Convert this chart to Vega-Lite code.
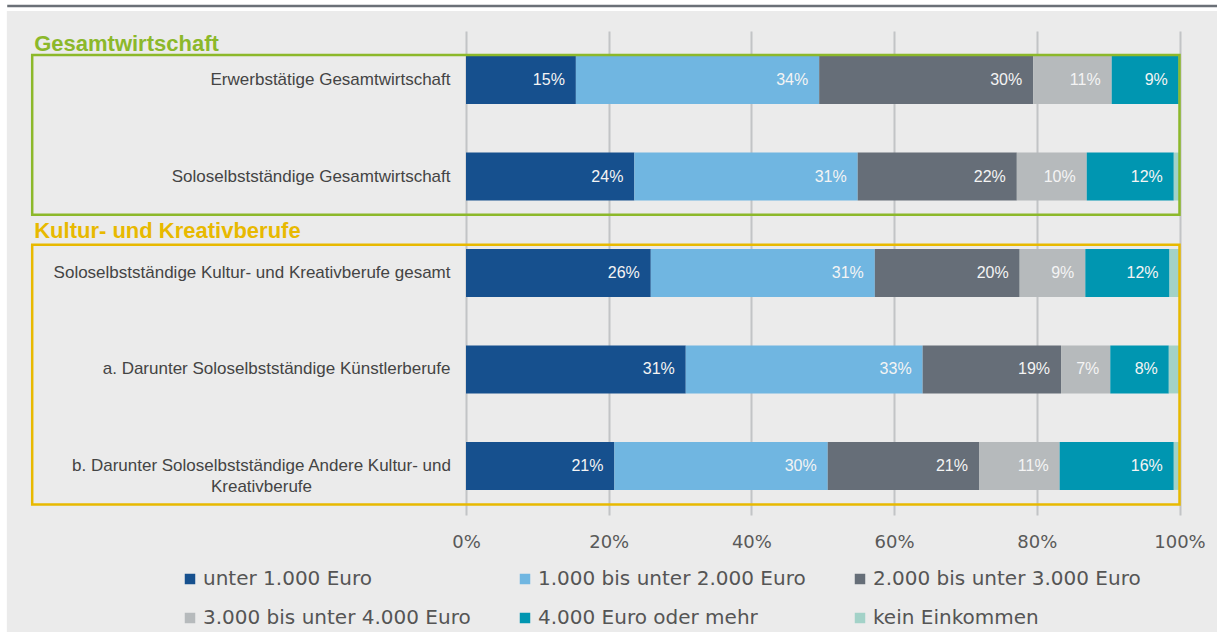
{
  "$schema": "https://vega.github.io/schema/vega-lite/v6.json",
  "width": 713.5,
  "height": 484,
  "autosize": {"type": "none"},
  "padding": {"left": 466, "top": 31, "right": 37, "bottom": 117},
  "background": "#ebebeb",
  "config": {"view": {"stroke": null}},
  "datasets": {
    "bars": [
      {"group": "Erwerbstätige Gesamtwirtschaft", "cat": "unter 1.000 Euro", "o": 1, "share": 0.154},
      {"group": "Erwerbstätige Gesamtwirtschaft", "cat": "1.000 bis unter 2.000 Euro", "o": 2, "share": 0.341},
      {"group": "Erwerbstätige Gesamtwirtschaft", "cat": "2.000 bis unter 3.000 Euro", "o": 3, "share": 0.300},
      {"group": "Erwerbstätige Gesamtwirtschaft", "cat": "3.000 bis unter 4.000 Euro", "o": 4, "share": 0.110},
      {"group": "Erwerbstätige Gesamtwirtschaft", "cat": "4.000 Euro oder mehr", "o": 5, "share": 0.094},
      {"group": "Erwerbstätige Gesamtwirtschaft", "cat": "kein Einkommen", "o": 6, "share": 0.001},
      {"group": "Soloselbstständige Gesamtwirtschaft", "cat": "unter 1.000 Euro", "o": 1, "share": 0.236},
      {"group": "Soloselbstständige Gesamtwirtschaft", "cat": "1.000 bis unter 2.000 Euro", "o": 2, "share": 0.313},
      {"group": "Soloselbstständige Gesamtwirtschaft", "cat": "2.000 bis unter 3.000 Euro", "o": 3, "share": 0.223},
      {"group": "Soloselbstständige Gesamtwirtschaft", "cat": "3.000 bis unter 4.000 Euro", "o": 4, "share": 0.098},
      {"group": "Soloselbstständige Gesamtwirtschaft", "cat": "4.000 Euro oder mehr", "o": 5, "share": 0.122},
      {"group": "Soloselbstständige Gesamtwirtschaft", "cat": "kein Einkommen", "o": 6, "share": 0.008},
      {"group": "Soloselbstständige Kultur- und Kreativberufe gesamt", "cat": "unter 1.000 Euro", "o": 1, "share": 0.259},
      {"group": "Soloselbstständige Kultur- und Kreativberufe gesamt", "cat": "1.000 bis unter 2.000 Euro", "o": 2, "share": 0.314},
      {"group": "Soloselbstständige Kultur- und Kreativberufe gesamt", "cat": "2.000 bis unter 3.000 Euro", "o": 3, "share": 0.203},
      {"group": "Soloselbstständige Kultur- und Kreativberufe gesamt", "cat": "3.000 bis unter 4.000 Euro", "o": 4, "share": 0.092},
      {"group": "Soloselbstständige Kultur- und Kreativberufe gesamt", "cat": "4.000 Euro oder mehr", "o": 5, "share": 0.118},
      {"group": "Soloselbstständige Kultur- und Kreativberufe gesamt", "cat": "kein Einkommen", "o": 6, "share": 0.014},
      {"group": "a. Darunter Soloselbstständige Künstlerberufe", "cat": "unter 1.000 Euro", "o": 1, "share": 0.308},
      {"group": "a. Darunter Soloselbstständige Künstlerberufe", "cat": "1.000 bis unter 2.000 Euro", "o": 2, "share": 0.332},
      {"group": "a. Darunter Soloselbstständige Künstlerberufe", "cat": "2.000 bis unter 3.000 Euro", "o": 3, "share": 0.194},
      {"group": "a. Darunter Soloselbstständige Künstlerberufe", "cat": "3.000 bis unter 4.000 Euro", "o": 4, "share": 0.069},
      {"group": "a. Darunter Soloselbstständige Künstlerberufe", "cat": "4.000 Euro oder mehr", "o": 5, "share": 0.082},
      {"group": "a. Darunter Soloselbstständige Künstlerberufe", "cat": "kein Einkommen", "o": 6, "share": 0.015},
      {"group": "b. Darunter Soloselbstständige Andere Kultur- und Kreativberufe", "cat": "unter 1.000 Euro", "o": 1, "share": 0.208},
      {"group": "b. Darunter Soloselbstständige Andere Kultur- und Kreativberufe", "cat": "1.000 bis unter 2.000 Euro", "o": 2, "share": 0.299},
      {"group": "b. Darunter Soloselbstständige Andere Kultur- und Kreativberufe", "cat": "2.000 bis unter 3.000 Euro", "o": 3, "share": 0.212},
      {"group": "b. Darunter Soloselbstständige Andere Kultur- und Kreativberufe", "cat": "3.000 bis unter 4.000 Euro", "o": 4, "share": 0.113},
      {"group": "b. Darunter Soloselbstständige Andere Kultur- und Kreativberufe", "cat": "4.000 Euro oder mehr", "o": 5, "share": 0.160},
      {"group": "b. Darunter Soloselbstständige Andere Kultur- und Kreativberufe", "cat": "kein Einkommen", "o": 6, "share": 0.008}
    ],
    "sections": [
      {"section": "Gesamtwirtschaft", "top": "Erwerbstätige Gesamtwirtschaft", "bottom": "Soloselbstständige Gesamtwirtschaft"},
      {"section": "Kultur- und Kreativberufe", "top": "Soloselbstständige Kultur- und Kreativberufe gesamt", "bottom": "b. Darunter Soloselbstständige Andere Kultur- und Kreativberufe"}
    ]
  },
  "layer": [
    {
      "data": {"name": "sections"},
      "transform": [{"filter": "datum.section == 'Gesamtwirtschaft'"}],
      "mark": {"type": "rect", "fill": "#ffffff", "yOffset": -62, "y2Offset": -45.1},
      "encoding": {
        "y": {"field": "top", "type": "nominal", "bandPosition": 0, "axis": {"title": null}},
        "y2": {"field": "top", "bandPosition": 0},
        "x": {"datum": -0.7, "type": "quantitative", "scale": {"domain": [0, 1], "nice": false}},
        "x2": {"datum": 1.1}
      }
    },
    {
      "data": {"name": "sections"},
      "transform": [{"filter": "datum.section == 'Gesamtwirtschaft'"}],
      "mark": {"type": "rect", "fill": "#ffffff", "yOffset": -62, "y2Offset": 160},
      "encoding": {
        "y": {"field": "top", "type": "nominal", "bandPosition": 0, "axis": {"title": null}},
        "y2": {"datum": "b. Darunter Soloselbstständige Andere Kultur- und Kreativberufe", "bandPosition": 1},
        "x": {"datum": -0.7, "type": "quantitative", "scale": {"domain": [0, 1], "nice": false}},
        "x2": {"datum": -0.6435}
      }
    },
    {
      "data": {"name": "sections"},
      "transform": [{"filter": "datum.section == 'Gesamtwirtschaft'"}],
      "mark": {"type": "rule", "stroke": "#6b7077", "strokeWidth": 2.5, "yOffset": -50},
      "encoding": {
        "y": {"field": "top", "type": "nominal", "bandPosition": 0, "axis": {"title": null}},
        "x": {"datum": -0.643, "type": "quantitative", "scale": {"domain": [0, 1], "nice": false}},
        "x2": {"datum": 1.1}
      }
    },
    {
      "data": {"name": "bars"},
      "mark": {"type": "bar"},
      "encoding": {
        "y": {
          "field": "group", "type": "nominal", "sort": null,
          "scale": {"domain": ["Erwerbstätige Gesamtwirtschaft", "Soloselbstständige Gesamtwirtschaft", "Soloselbstständige Kultur- und Kreativberufe gesamt", "a. Darunter Soloselbstständige Künstlerberufe", "b. Darunter Soloselbstständige Andere Kultur- und Kreativberufe"], "paddingInner": 0.503, "paddingOuter": 0.26},
          "axis": {
            "title": null, "domain": false, "ticks": false, "tickSize": 0,
            "labelFont": "Liberation Sans", "labelFontSize": 17, "labelColor": "#444444",
            "labelLimit": 600, "labelLineHeight": 21,
            "labelExpr": "indexof(datum.value, 'b. ') === 0 ? ['b. Darunter Soloselbstständige Andere Kultur- und', 'Kreativberufe'] : datum.label",
            "labelAlign": {"condition": {"test": "indexof(datum.value, 'b. ') === 0", "value": "center"}, "value": "right"},
            "labelPadding": {"condition": {"test": "indexof(datum.value, 'b. ') === 0", "value": 205}, "value": 16}
          }
        },
        "x": {
          "field": "share", "type": "quantitative", "stack": "zero",
          "scale": {"domain": [0, 1], "nice": false},
          "axis": {
            "title": null, "values": [0, 0.2, 0.4, 0.6, 0.8, 1], "format": ".0%",
            "domain": false, "ticks": false, "tickSize": 0, "labelFlush": false,
            "labelFont": "DejaVu Sans", "labelFontSize": 18, "labelColor": "#595959", "labelPadding": 18,
            "grid": true, "gridColor": "#c2c4c6", "gridWidth": 2
          }
        },
        "color": {
          "field": "cat", "type": "nominal",
          "scale": {
            "domain": ["unter 1.000 Euro", "1.000 bis unter 2.000 Euro", "2.000 bis unter 3.000 Euro", "3.000 bis unter 4.000 Euro", "4.000 Euro oder mehr", "kein Einkommen"],
            "range": ["#16508e", "#70b6e1", "#666e78", "#b6babc", "#0096b1", "#a3d2c8"]
          },
          "legend": {
            "title": null, "orient": "none", "legendX": -286, "legendY": 538, "columns": 3, "direction": "horizontal",
            "symbolType": "square", "symbolSize": 110, "symbolStrokeWidth": 0,
            "labelFont": "DejaVu Sans", "labelFontSize": 20, "labelColor": "#555555", "labelLimit": 500,
            "labelOffset": 3, "columnPadding": 44, "rowPadding": 19
          }
        },
        "order": {"field": "o", "type": "quantitative"}
      }
    },
    {
      "data": {"name": "bars"},
      "transform": [{"filter": "datum.share >= 0.03"}],
      "mark": {"type": "text", "align": "right", "baseline": "middle", "dx": -11, "font": "Liberation Sans", "fontSize": 16, "color": "#f4f4f4"},
      "encoding": {
        "y": {"field": "group", "type": "nominal", "sort": null, "axis": {"title": null}},
        "x": {"field": "share", "type": "quantitative", "stack": "zero", "scale": {"domain": [0, 1], "nice": false}},
        "detail": {"field": "cat"},
        "order": {"field": "o", "type": "quantitative"},
        "text": {"field": "share", "type": "quantitative", "format": ".0%"}
      }
    },
    {
      "data": {"name": "sections"},
      "transform": [{"filter": "datum.section == 'Gesamtwirtschaft'"}],
      "mark": {"type": "rect", "fillOpacity": 0, "stroke": "#8cb82a", "strokeWidth": 2.5, "yOffset": -1.1, "y2Offset": 14.3},
      "encoding": {
        "y": {"field": "top", "type": "nominal", "bandPosition": 0, "axis": {"title": null}},
        "y2": {"field": "bottom", "bandPosition": 1},
        "x": {"datum": -0.608, "type": "quantitative", "scale": {"domain": [0, 1], "nice": false}},
        "x2": {"datum": 1}
      }
    },
    {
      "data": {"name": "sections"},
      "transform": [{"filter": "datum.section == 'Kultur- und Kreativberufe'"}],
      "mark": {"type": "rect", "fillOpacity": 0, "stroke": "#e8b900", "strokeWidth": 2.5, "yOffset": -4.3, "y2Offset": 14.5},
      "encoding": {
        "y": {"field": "top", "type": "nominal", "bandPosition": 0, "axis": {"title": null}},
        "y2": {"field": "bottom", "bandPosition": 1},
        "x": {"datum": -0.608, "type": "quantitative", "scale": {"domain": [0, 1], "nice": false}},
        "x2": {"datum": 1}
      }
    },
    {
      "data": {"name": "sections"},
      "transform": [{"filter": "datum.section == 'Gesamtwirtschaft'"}],
      "mark": {"type": "text", "align": "left", "baseline": "alphabetic", "dx": 2, "dy": -5, "font": "Liberation Sans", "fontSize": 22, "fontWeight": "bold", "color": "#8cb82a"},
      "encoding": {
        "y": {"field": "top", "type": "nominal", "bandPosition": 0, "axis": {"title": null}},
        "x": {"datum": -0.608, "type": "quantitative", "scale": {"domain": [0, 1], "nice": false}},
        "text": {"field": "section"}
      }
    },
    {
      "data": {"name": "sections"},
      "transform": [{"filter": "datum.section == 'Kultur- und Kreativberufe'"}],
      "mark": {"type": "text", "align": "left", "baseline": "alphabetic", "dx": 2, "dy": -11.3, "font": "Liberation Sans", "fontSize": 22, "fontWeight": "bold", "color": "#e8b900"},
      "encoding": {
        "y": {"field": "top", "type": "nominal", "bandPosition": 0, "axis": {"title": null}},
        "x": {"datum": -0.608, "type": "quantitative", "scale": {"domain": [0, 1], "nice": false}},
        "text": {"field": "section"}
      }
    }
  ]
}
